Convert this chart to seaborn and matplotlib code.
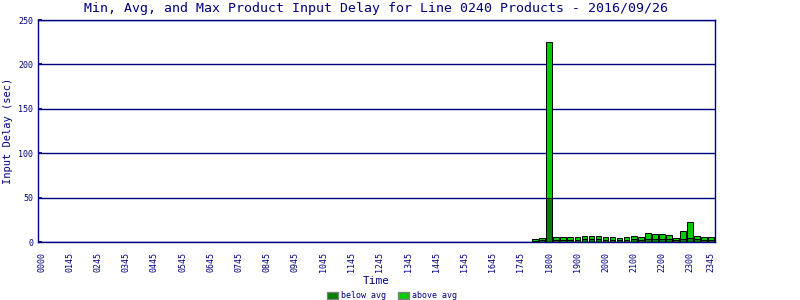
import numpy as np
import pandas as pd
import matplotlib
matplotlib.use("Agg")
import matplotlib.pyplot as plt
import seaborn as sns
from matplotlib.patches import Patch

# ---- data ----
n_slots = 96
tick_labels = ["0000", "0145", "0245", "0345", "0445", "0545", "0645", "0745",
               "0845", "0945", "1045", "1145", "1245", "1345", "1445", "1545",
               "1645", "1745", "1800", "1900", "2000", "2100", "2200", "2300",
               "2345"]
data_slots = list(range(70, 96))
max_delay = [3.4, 4.5, 225, 5.6, 5.6, 5.6, 5.6, 6.8, 6.8, 6.8, 5.6, 5.6, 4.5,
             5.6, 6.8, 5.6, 10.1, 9.0, 9.0, 7.9, 4.5, 12.4, 22.5, 6.8, 5.6, 5.6]
avg_delay = [1.5, 2.0, 50, 2.5, 2.5, 2.5, 2.5, 3.0, 3.0, 3.0, 2.5, 2.5, 2.0,
             2.5, 3.0, 2.5, 3.0, 3.0, 3.0, 3.0, 2.0, 3.5, 4.5, 3.0, 2.5, 2.5]

df = pd.DataFrame({"slot": data_slots, "max": max_delay, "avg": avg_delay})

navy = "#000080"
dark_green = "#008000"
light_green = "#00CC00"

sns.set_theme(style="white")
plt.rcParams["font.family"] = ["DejaVu Sans Mono", "DejaVu Sans"]

fig = plt.figure(figsize=(8, 3), dpi=100)
ax = fig.add_axes([0.0475, 0.193, 0.846, 0.74])

order = list(range(n_slots))
sns.barplot(data=df, x="slot", y="max", order=order, color=light_green,
            saturation=1, width=0.8, edgecolor="black", linewidth=0.7, ax=ax,
            zorder=3)
sns.barplot(data=df, x="slot", y="avg", order=order, color=dark_green,
            saturation=1, width=0.8, edgecolor="black", linewidth=0.7, ax=ax,
            zorder=4)

ax.set_xlim(-0.5, n_slots - 0.5)
ax.set_ylim(0, 250)
ax.set_yticks([0, 50, 100, 150, 200, 250])
ax.yaxis.grid(True, color=navy, linewidth=1, zorder=1)
ax.set_axisbelow(True)

tick_pos = [4 * i for i in range(len(tick_labels) - 1)] + [n_slots - 1]
ax.set_xticks(tick_pos)
ax.set_xticklabels(tick_labels, rotation=90, fontsize=6, color=navy)
ax.tick_params(axis="y", labelsize=6, labelcolor=navy, direction="in",
               length=3, color=navy, left=True)
ax.tick_params(axis="x", direction="out", length=0, pad=7)

for s in ax.spines.values():
    s.set_color(navy)
    s.set_linewidth(1)
    s.set_visible(True)
    s.set_zorder(5)

ax.set_xlabel("Time", color=navy, fontsize=8, labelpad=3)
ax.set_ylabel("Input Delay (sec)", color=navy, fontsize=7.5, labelpad=4)
ax.set_title("Min, Avg, and Max Product Input Delay for Line 0240 Products - 2016/09/26",
             color=navy, fontsize=9.5, pad=6)

handles = [Patch(facecolor=dark_green, edgecolor="gray", label="below avg"),
           Patch(facecolor=light_green, edgecolor="gray", label="above avg")]
fig.legend(handles=handles, loc="lower center", bbox_to_anchor=(0.49, -0.025),
           ncol=2, frameon=False, fontsize=6, handlelength=1.3,
           handleheight=0.9, handletextpad=0.3, columnspacing=1.5,
           labelcolor=navy)

fig.savefig("out.png", dpi=100, facecolor="white")
